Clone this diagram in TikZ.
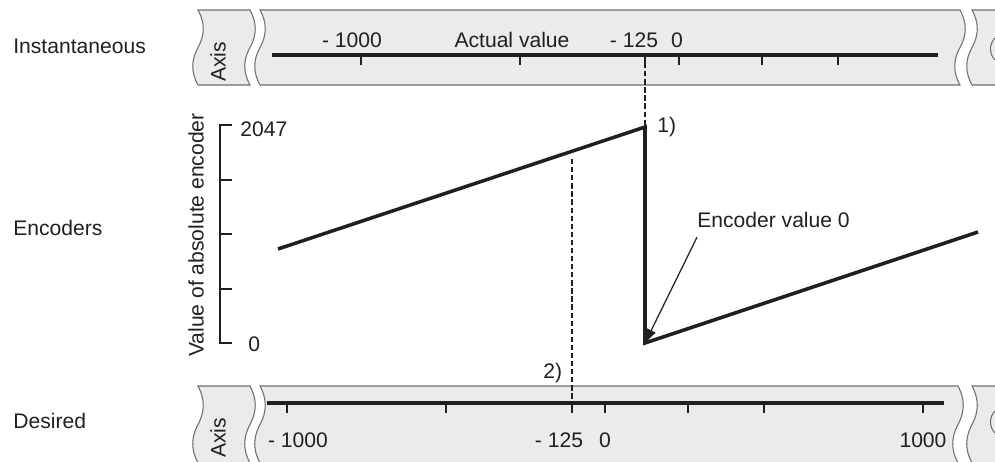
\documentclass[tikz,border=0pt]{standalone}
\usepackage{fontspec}
\setmainfont{Liberation Sans}
\usetikzlibrary{arrows.meta}
\definecolor{bandfill}{HTML}{EBEBEC}
\definecolor{banddraw}{HTML}{6D6E71}
\definecolor{ink}{HTML}{231F20}
\tikzset{
  band/.style={fill=bandfill, draw=banddraw, line width=0.6pt},
  axline/.style={line width=1.9pt, draw=ink},
  tickmark/.style={line width=1.5pt, draw=ink},
  saw/.style={line width=2pt, draw=ink},
  guide/.style={line width=1.7pt, draw=ink, dash pattern=on 3pt off 1.6pt},
  ptr/.style={-{Triangle[length=8pt, width=5.5pt]}, line width=0.7pt, draw=ink},
  lbl/.style={font=\fontsize{12}{14}\selectfont, text=ink, inner sep=0pt},
}
% torn strip piece: #1 left x, #2 right x, #3 top y, #4 bottom y
\newcommand{\tornpiece}[4]{%
  \filldraw[band] (#1,#3) -- (#2,#3)
    .. controls ({#2+7},{#3+(#4-#3)/6}) and ({#2+7},{#3+(#4-#3)/3}) .. (#2,{(#3+#4)/2})
    .. controls ({#2-7},{#3+2*(#4-#3)/3}) and ({#2-7},{#3+5*(#4-#3)/6}) .. (#2,#4)
    -- (#1,#4)
    .. controls ({#1-7},{#3+5*(#4-#3)/6}) and ({#1-7},{#3+2*(#4-#3)/3}) .. (#1,{(#3+#4)/2})
    .. controls ({#1+7},{#3+(#4-#3)/3}) and ({#1+7},{#3+(#4-#3)/6}) .. (#1,#3) -- cycle;}

\begin{document}
\begin{tikzpicture}[x=0.02cm, y=-0.02cm]
  \clip (0,0) rectangle (995,461);

  % row labels
  \node[lbl, anchor=base west] (inst) at (13,53) {Instantaneous};
  \node[lbl, anchor=base west] (enc) at (13,235) {Encoders};
  \node[lbl, anchor=base west] (des) at (13,428) {Desired};

  % actual value strip
  \tornpiece{198}{250}{10}{85}
  \tornpiece{260}{960}{10}{85}
  \tornpiece{972}{1020}{10}{85}
  \draw[banddraw, line width=0.6pt] (995,38) .. controls (989,44) and (989,54) .. (995,60);
  \node[lbl, rotate=90] (axtop) at (218,62) {Axis};
  \draw[axline] (272,55) -- (938,55);
  \foreach \x in {361,520,645,679,762,838}
    \draw[tickmark] (\x,55) -- (\x,65);
  \node[lbl, anchor=base] (actm1000) at (352,47) {- 1000};
  \node[lbl, anchor=base] (actlbl) at (512,47) {Actual value};
  \node[lbl, anchor=base] (actm125) at (634,47) {- 125};
  \node[lbl, anchor=base] (act0) at (677,47) {0};

  % desired value strip
  \tornpiece{198}{250}{386}{463}
  \tornpiece{260}{958}{386}{463}
  \tornpiece{972}{1020}{386}{463}
  \draw[banddraw, line width=0.6pt] (995,411) .. controls (989,417) and (989,427) .. (995,433);
  \node[lbl, rotate=90] (axbot) at (218,438) {Axis};
  \draw[axline] (267,403) -- (944,403);
  \foreach \x in {287,446,572,605,688,764,923}
    \draw[tickmark] (\x,403) -- (\x,413);
  \node[lbl, anchor=base] (desm1000) at (298,447) {- 1000};
  \node[lbl, anchor=base] (desm125) at (559,447) {- 125};
  \node[lbl, anchor=base] (des0) at (605,447) {0};
  \node[lbl, anchor=base] (des1000) at (923,447) {1000};

  % encoder scale
  \draw[tickmark] (232,125) -- (220,125) -- (220,343) -- (232,343);
  \foreach \y in {180,234,289}
    \draw[tickmark] (220,\y) -- (232,\y);
  \node[lbl, anchor=west] (e2047) at (240,129) {2047};
  \node[lbl, anchor=west] (e0) at (248,344) {0};
  \node[lbl, rotate=90] (eaxis) at (196,235) {Value of absolute encoder};

  % encoder sawtooth
  \coordinate (sa) at (278,249);
  \coordinate (peak) at (645,127);
  \coordinate (zero) at (645,343);
  \coordinate (se) at (978,232);
  \draw[saw] (sa) -- (peak) -- (zero) -- (se);

  % guides
  \coordinate (acttick) at (645,55);
  \coordinate (desramp) at (572,159);
  \coordinate (destick) at (572,403);
  \draw[guide] (acttick) -- (peak);
  \draw[guide] (desramp) -- (destick);
  \node[lbl, anchor=base west] (n1) at (657,132) {1)};
  \node[lbl, anchor=base west] (n2) at (543,378) {2)};

  \node[lbl, anchor=base west] (encz) at (697,227) {Encoder value 0};
  \draw[ptr] ([yshift=-5.5pt]encz.south west) -- (zero);
\end{tikzpicture}
\end{document}
